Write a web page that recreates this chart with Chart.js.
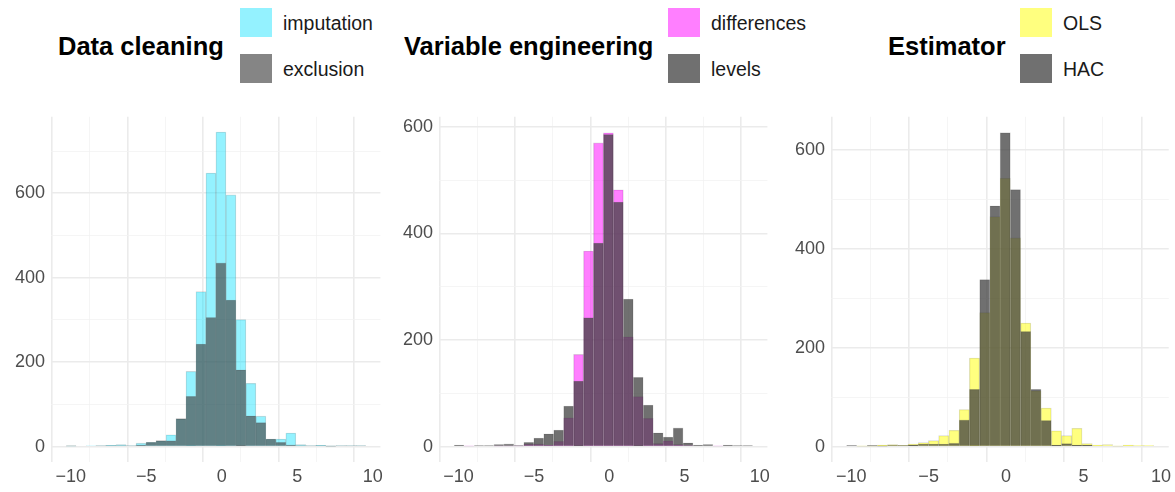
<!DOCTYPE html>
<html>
<head>
<meta charset="utf-8">
<script src="https://cdn.jsdelivr.net/npm/chart.js@4.4.1/dist/chart.umd.min.js"></script>
<style>
  body { margin: 0; background: #fff; font-family: Arial, "Liberation Sans", sans-serif; }
  .title { position: absolute; top: 32px; font-weight: bold; font-size: 25.5px; color: #000; white-space: nowrap; }
  .key { position: absolute; width: 32px; height: 29px; }
  .lab { position: absolute; font-size: 19.5px; color: #1a1a1a; white-space: nowrap; }
  canvas { position: absolute; }
</style>
</head>
<body>
<div id="root"></div>
<script>
// bin centres (binwidth ~0.661)
const binStart = -9.97;
const binWidth = 0.661;
const xTicks = [-10, -7.5, -5, -2.5, 0, 2.5, 5, 7.5, 10];

const imputation = [1,0,2,2,3,5,2,8,10,14,28,66,178,367,648,745,596,301,150,72,18,18,32,5,2,3,1,2,2,2];
const exclusion  = [2,0,0,2,2,2,2,4,10,14,14,66,119,243,306,435,347,182,73,57,18,10,4,2,2,2,1,2,2,2];

const differences = [0,1,0,0,1,1,1,5,5,3,10,54,173,367,570,589,482,206,94,53,6,11,4,2,0,0,1,0,0,0];
const levels      = [3,0,2,2,4,5,2,8,16,24,31,76,123,242,382,586,459,277,130,78,26,18,35,7,3,4,0,3,2,2];

const ols = [0,1,1,3,4,2,5,8,12,22,33,75,179,271,465,543,422,250,113,78,32,22,37,6,3,4,1,3,2,2];
const hac = [2,0,2,1,2,2,3,5,5,5,7,54,116,338,487,635,520,233,116,53,3,6,3,3,0,0,0,0,0,0];

const panels = [
  { title: 'Data cleaning', names: ['imputation', 'exclusion'], series: [imputation, exclusion],
    colors: ['rgba(0,225,255,0.42)', 'rgba(70,70,70,0.66)'],
    left: 9, width: 378, padRight: 6, titleX: 58, keyX: 240, ymax: 781 },
  { title: 'Variable engineering', names: ['differences', 'levels'], series: [differences, levels],
    colors: ['rgba(255,0,255,0.5)', 'rgba(64,64,64,0.75)'],
    left: 397, width: 377, padRight: 6, titleX: 404, keyX: 668, ymax: 619 },
  { title: 'Estimator', names: ['OLS', 'HAC'], series: [ols, hac],
    colors: ['rgba(255,255,0,0.5)', 'rgba(64,64,64,0.75)'],
    left: 789, width: 386, padRight: 0, titleX: 888, keyX: 1020, ymax: 667 }
];

const root = document.getElementById('root');

panels.forEach(p => {
  // header: title + legend
  const t = document.createElement('div');
  t.className = 'title';
  t.style.left = p.titleX + 'px';
  t.textContent = p.title;
  root.appendChild(t);
  p.names.forEach((n, i) => {
    const k = document.createElement('div');
    k.className = 'key';
    k.style.left = p.keyX + 'px';
    k.style.top = (8 + i * 46) + 'px';
    k.style.background = p.colors[i];
    root.appendChild(k);
    const l = document.createElement('div');
    l.className = 'lab';
    l.style.left = (p.keyX + 43) + 'px';
    l.style.top = (12 + i * 46) + 'px';
    l.textContent = n;
    root.appendChild(l);
  });

  const c = document.createElement('canvas');
  c.style.left = p.left + 'px';
  c.style.top = '100px';
  c.style.width = p.width + 'px';
  c.style.height = '392px';
  c.width = p.width; c.height = 392;
  root.appendChild(c);

  const yTicks = [];
  for (let v = 0; v <= p.ymax; v += 100) yTicks.push(v);

  // second series (grey) is listed first so it is drawn on top
  const sets = p.series.map((s, i) => ({
    label: p.names[i],
    data: s.map((v, j) => ({ x: binStart + j * binWidth, y: v })),
    backgroundColor: p.colors[i],
    borderColor: 'rgba(60,60,60,0.2)',
    borderWidth: 0.6,
    barPercentage: 1,
    categoryPercentage: 1,
    grouped: false
  })).reverse();

  new Chart(c, {
    type: 'bar',
    data: { datasets: sets },
    options: {
      responsive: false,
      animation: false,
      layout: { padding: { top: 12, right: p.padRight, bottom: 0, left: 0 } },
      plugins: { legend: { display: false }, tooltip: { enabled: false } },
      scales: {
        x: {
          type: 'linear', min: -11.3, max: 10.5, offset: false,
          afterBuildTicks: ax => { ax.ticks = xTicks.map(v => ({ value: v })); },
          grid: {
            color: ctx => (ctx.tick && ctx.tick.value % 5 === 0) ? '#ebebeb' : '#f3f3f3',
            lineWidth: ctx => (ctx.tick && ctx.tick.value % 5 === 0) ? 1.6 : 0.8,
            drawTicks: false
          },
          border: { display: false },
          ticks: {
            color: '#4d4d4d', font: { size: 18, family: 'Arial, Liberation Sans' }, padding: 4,
            maxRotation: 0, autoSkip: false,
            callback: v => (v % 5 === 0 ? (v < 0 ? '\u2212' + Math.abs(v) : String(v)) : '')
          }
        },
        y: {
          min: -p.ymax * 0.048, max: p.ymax,
          afterBuildTicks: ax => { ax.ticks = yTicks.map(v => ({ value: v })); },
          grid: {
            color: ctx => (ctx.tick && ctx.tick.value % 200 === 0) ? '#ebebeb' : '#f3f3f3',
            lineWidth: ctx => (ctx.tick && ctx.tick.value % 200 === 0) ? 1.6 : 0.8,
            drawTicks: false
          },
          border: { display: false },
          ticks: {
            color: '#4d4d4d', font: { size: 18, family: 'Arial, Liberation Sans' }, padding: 6,
            autoSkip: false,
            callback: v => (v % 200 === 0 ? String(v) : '')
          }
        }
      }
    }
  });
});
</script>
</body>
</html>
